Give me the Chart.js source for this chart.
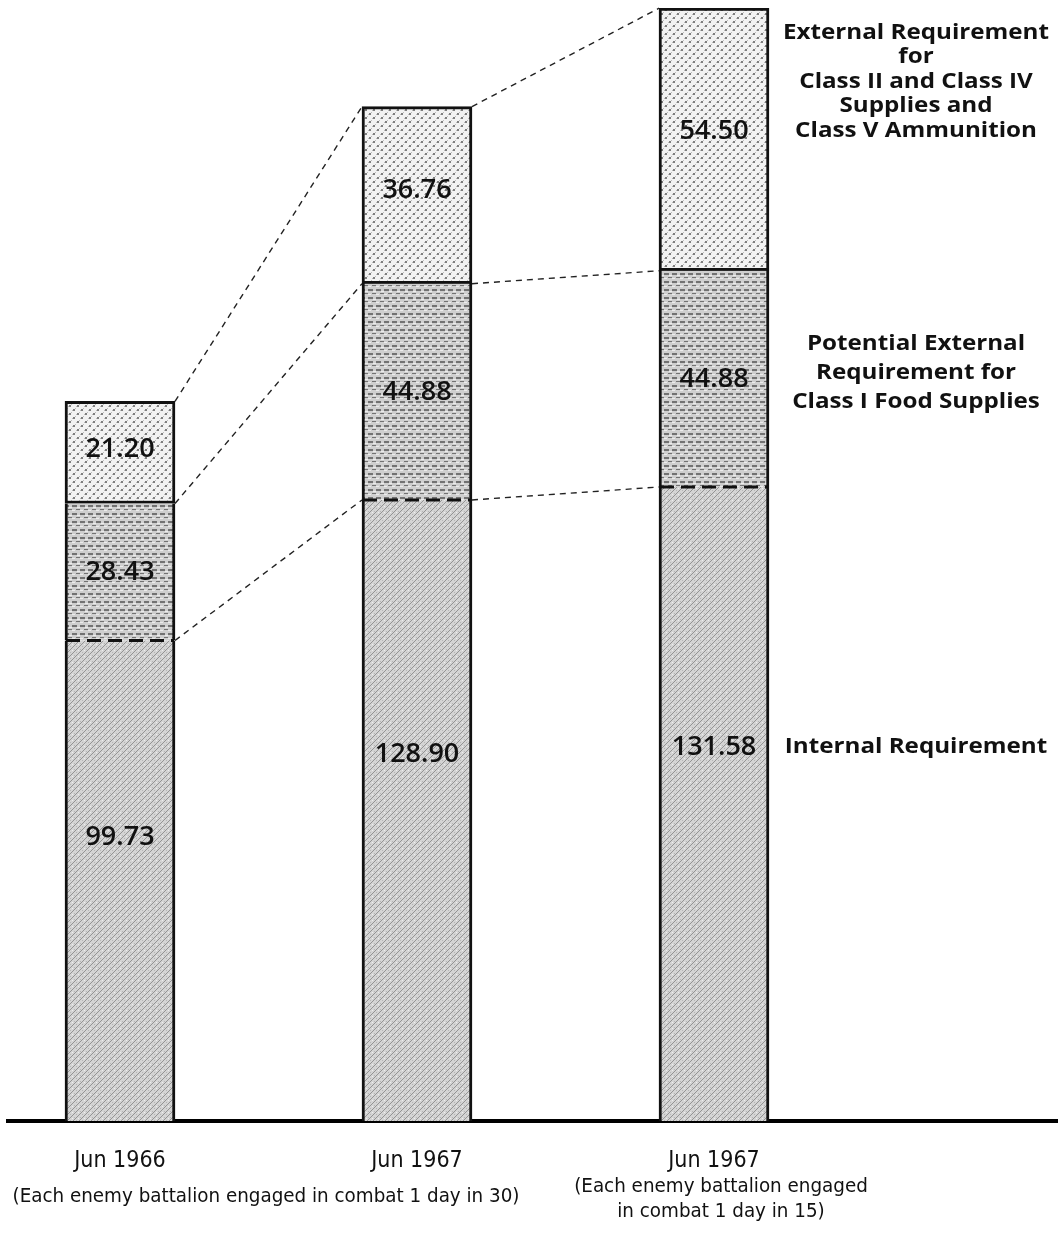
<!DOCTYPE html>
<html>
<head>
<meta charset="utf-8">
<script src="https://cdn.jsdelivr.net/npm/chart.js@4.4.1/dist/chart.umd.min.js"></script>
<style>
  html, body { margin: 0; padding: 0; background: #fff; }
  #wrap { width: 1058px; height: 1235px; position: relative; }
</style>
</head>
<body>
<div id="wrap"><canvas id="chart"></canvas></div>
<script>
const categories = ['Jun 1966', 'Jun 1967', 'Jun 1967'];
const notes = [
  ['(Each enemy battalion engaged in combat 1 day in 30)'],
  [],
  ['(Each enemy battalion engaged', 'in combat 1 day in 15)'],
];
const internalReq = [99.73, 128.90, 131.58];
const potentialReq = [28.43, 44.88, 44.88];
const externalReq = [21.20, 36.76, 54.50];
const seriesNames = [
  ['Internal Requirement'],
  ['Potential External', 'Requirement for', 'Class I Food Supplies'],
  ['External Requirement', 'for', 'Class II and Class IV', 'Supplies and', 'Class V Ammunition'],
];

const LABEL_FONT = '"Open Sans", "DejaVu Sans", sans-serif';
const NARROW_FONT = '"Liberation Sans Narrow", "DejaVu Sans Condensed", sans-serif';

// little tiles standing in for the printed screen tones
const makePattern = (size, paint) => {
  const c = document.createElement('canvas');
  c.width = size;
  c.height = size;
  const g = c.getContext('2d');
  paint(g);
  return g.createPattern(c, 'repeat');
};

const hatchFill = makePattern(6, (g) => {
  g.fillStyle = '#d4d4d4';
  g.fillRect(0, 0, 6, 6);
  g.fillStyle = '#939393';
  for (let i = 0; i < 6; i++) g.fillRect(i, 5 - i, 1, 1);
  g.fillStyle = '#b5b5b5';
  g.fillRect(2, 1, 1, 1);
  g.fillRect(4, 4, 1, 1);
  g.fillStyle = '#eeeeee';
  g.fillRect(0, 2, 1, 1);
});

const dashFill = makePattern(8, (g) => {
  g.fillStyle = '#cfcfcf';
  g.fillRect(0, 0, 8, 8);
  g.fillStyle = '#727272';
  g.fillRect(0, 1, 5, 2);
  g.fillRect(4, 5, 4, 1);
  g.fillStyle = '#ececec';
  g.fillRect(5, 3, 3, 1);
  g.fillRect(0, 6, 3, 1);
});

const dotFill = makePattern(8, (g) => {
  g.fillStyle = '#f2f2f2';
  g.fillRect(0, 0, 8, 8);
  g.fillStyle = '#7e7e7e';
  g.fillRect(1, 1, 2, 2);
  g.fillRect(5, 5, 2, 2);
  g.fillStyle = '#bcbcbc';
  g.fillRect(0, 2, 1, 1);
  g.fillRect(4, 6, 1, 1);
  g.fillRect(3, 0, 1, 1);
  g.fillRect(7, 4, 1, 1);
});

// value label position inside each segment, as a share of its height from the top
const labelShare = [0.41, 0.5, 0.47];

// draw text stretched or squeezed horizontally about (x, y)
const stretchText = (ctx, text, x, y, sx) => {
  ctx.save();
  ctx.translate(x, y);
  ctx.scale(sx, 1);
  ctx.fillText(text, 0, 0);
  ctx.restore();
};

const overlay = {
  id: 'overlay',
  afterDatasetsDraw(chart) {
    const { ctx } = chart;
    const metas = [0, 1, 2].map((i) => chart.getDatasetMeta(i).data);

    ctx.save();

    // thin dashed lines joining the segment boundaries of neighbouring bars
    ctx.strokeStyle = '#222';
    ctx.lineWidth = 1.4;
    ctx.setLineDash([6, 5]);
    for (let i = 0; i < categories.length - 1; i++) {
      metas.forEach((bars) => {
        const a = bars[i];
        const b = bars[i + 1];
        ctx.beginPath();
        ctx.moveTo(a.x + a.width / 2, a.y);
        ctx.lineTo(b.x - b.width / 2, b.y);
        ctx.stroke();
      });
    }

    // heavy dashed line between internal and potential segments
    ctx.lineWidth = 3;
    ctx.strokeStyle = '#111';
    ctx.setLineDash([14, 7]);
    metas[0].forEach((bar) => {
      ctx.beginPath();
      ctx.moveTo(bar.x - bar.width / 2 + 1, bar.y);
      ctx.lineTo(bar.x + bar.width / 2 - 1, bar.y);
      ctx.stroke();
    });
    ctx.setLineDash([]);

    // values inside the segments
    ctx.fillStyle = '#111';
    ctx.textAlign = 'center';
    ctx.textBaseline = 'middle';
    ctx.font = `600 27px ${LABEL_FONT}`;
    const datasets = chart.data.datasets;
    metas.forEach((bars, d) => {
      bars.forEach((bar, i) => {
        const y = bar.y + (bar.base - bar.y) * labelShare[d];
        ctx.fillText(datasets[d].data[i].y.toFixed(2), bar.x, y);
      });
    });

    // series names to the right of the last bar, in a wide face
    const last = categories.length - 1;
    const cx = 916;
    const nameShare = [0.41, 0.47, 0.28];
    const lineGap = [28, 29, 24.5];
    ctx.font = `700 22px ${LABEL_FONT}`;
    const widen = 266 / ctx.measureText(seriesNames[2][0]).width;
    metas.forEach((bars, d) => {
      const bar = bars[last];
      const mid = bar.y + (bar.base - bar.y) * nameShare[d];
      const lines = seriesNames[d];
      lines.forEach((line, k) => {
        stretchText(ctx, line, cx, mid + (k - (lines.length - 1) / 2) * lineGap[d], widen);
      });
    });

    // notes under the category labels
    const noteX = [266, 417, 721];
    const noteTop = [76, 76, 66];
    ctx.font = `20px ${NARROW_FONT}`;
    const fit = 507 / ctx.measureText(notes[0][0]).width;
    notes.forEach((lines, i) => {
      lines.forEach((line, k) => {
        stretchText(ctx, line, noteX[i], chart.chartArea.bottom + noteTop[i] + k * 25, fit);
      });
    });

    ctx.restore();
  },
};

const sideBorder = { top: 0, bottom: 0, left: 3, right: 3 };

new Chart(document.getElementById('chart'), {
  type: 'bar',
  data: {
    datasets: [
      {
        label: 'Internal Requirement',
        data: internalReq.map((y, x) => ({ x, y })),
        backgroundColor: hatchFill,
        borderColor: '#111',
        borderWidth: sideBorder,
        borderSkipped: false,
      },
      {
        label: 'Potential External Requirement for Class I Food Supplies',
        data: potentialReq.map((y, x) => ({ x, y })),
        backgroundColor: dashFill,
        borderColor: '#111',
        borderWidth: sideBorder,
        borderSkipped: false,
      },
      {
        label: 'External Requirement for Class II and Class IV Supplies and Class V Ammunition',
        data: externalReq.map((y, x) => ({ x, y })),
        backgroundColor: dotFill,
        borderColor: '#111',
        borderWidth: { top: 3, bottom: 3, left: 3, right: 3 },
        borderSkipped: false,
      },
    ],
  },
  options: {
    responsive: true,
    maintainAspectRatio: false,
    animation: false,
    parsing: { xAxisKey: 'x', yAxisKey: 'y' },
    barThickness: 110,
    layout: { padding: { top: 8, left: 8, right: 0, bottom: 0 } },
    plugins: {
      legend: { display: false },
      tooltip: { enabled: false },
    },
    scales: {
      x: {
        type: 'linear',
        stacked: true,
        offset: false,
        min: -0.3771,
        max: 3.1583,
        grid: { display: false, drawTicks: false, offset: false },
        border: { display: true, color: '#000', width: 4 },
        afterBuildTicks: (scale) => {
          scale.ticks = categories.map((_, i) => ({ value: i }));
        },
        afterFit: (scale) => {
          scale.height = 114;
        },
        ticks: {
          autoSkip: false,
          maxRotation: 0,
          padding: 26,
          color: '#111',
          font: { family: NARROW_FONT, size: 23 },
          callback: (value) => categories[value] ?? '',
        },
      },
      y: {
        display: false,
        stacked: true,
        min: 0,
        max: 231,
      },
    },
  },
  plugins: [overlay],
});
</script>
</body>
</html>
